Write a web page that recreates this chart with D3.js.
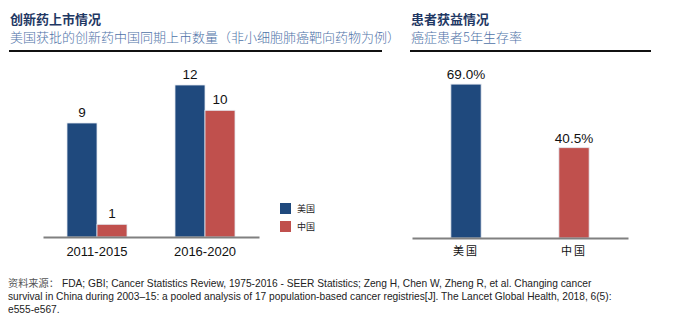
<!DOCTYPE html>
<html>
<head>
<meta charset="utf-8">
<script src="https://cdn.jsdelivr.net/npm/d3@7"></script>
<style>
  body { margin: 0; background: #fff; }
  svg { display: block; }
</style>
</head>
<body>
<div id="viz"></div>
<script>
const width = 677;
const height = 323;

// left panel: new drugs approved
const periods = ["2011-2015", "2016-2020"];
const countries = ["美国", "中国"];
const usDrugs = [9, 12];
const cnDrugs = [1, 10];

// right panel: 5-year survival
const survivalCountries = ["美国", "中国"];
const survival = [69.0, 40.5];

const colors = { "美国": "#1f497d", "中国": "#c0504d" };
const cjk = "'Noto Sans CJK SC', sans-serif";
const latin = "'Liberation Sans', Arial, sans-serif";

const svg = d3.select("#viz")
  .append("svg")
  .attr("width", width)
  .attr("height", height);

// headers
function header(x, x2, title, subtitle) {
  svg.append("text")
    .attr("x", x).attr("y", 24)
    .attr("font-family", cjk)
    .attr("font-size", "13px")
    .attr("font-weight", "bold")
    .attr("fill", "#1f3864")
    .text(title);
  svg.append("text")
    .attr("x", x).attr("y", 42)
    .attr("font-family", cjk)
    .attr("font-size", "13px")
    .attr("font-weight", 300)
    .attr("fill", "#4f73a8")
    .text(subtitle);
  svg.append("line")
    .attr("x1", x - 1).attr("x2", x2)
    .attr("y1", 51).attr("y2", 51)
    .attr("stroke", "#111")
    .attr("stroke-width", 2);
}
header(10, 382, "创新药上市情况", "美国获批的创新药中国同期上市数量（非小细胞肺癌靶向药物为例）");
header(411, 651, "患者获益情况", "癌症患者5年生存率");

// ---- left grouped bars
const x0 = d3.scaleBand().domain(periods).range([43, 259]);
const x1 = d3.scaleBand().domain(countries).range([24, 84]);
const yL = d3.scaleLinear().domain([0, 12]).range([237, 85]);

const rows = periods.map((p, i) => ({ period: p, values: [
  { key: "美国", v: usDrugs[i] },
  { key: "中国", v: cnDrugs[i] }
]}));

const groups = svg.append("g").selectAll("g")
  .data(rows).join("g")
  .attr("transform", d => `translate(${x0(d.period)},0)`);

groups.selectAll("rect")
  .data(d => d.values).join("rect")
  .attr("x", d => x1(d.key))
  .attr("width", x1.bandwidth())
  .attr("y", d => yL(d.v))
  .attr("height", d => yL(0) - yL(d.v))
  .attr("fill", d => colors[d.key])
  .attr("stroke", "#e4e9f0")
  .attr("stroke-width", 0.8);

groups.selectAll("text.val")
  .data(d => d.values).join("text")
  .attr("class", "val")
  .attr("x", d => x1(d.key) + x1.bandwidth() / 2)
  .attr("y", d => yL(d.v) - 6)
  .attr("text-anchor", "middle")
  .attr("font-family", latin)
  .attr("font-size", "13.5px")
  .attr("fill", "#111")
  .text(d => d.v);

const axL = svg.append("g")
  .attr("transform", "translate(0,237)")
  .call(d3.axisBottom(x0).tickSize(0).tickPadding(10));
axL.select(".domain").attr("stroke", "#808080").attr("stroke-width", 2);
axL.selectAll("text")
  .attr("font-family", latin)
  .attr("font-size", "13px")
  .attr("fill", "#111");

// legend
const legend = svg.append("g").selectAll("g")
  .data(countries).join("g")
  .attr("transform", (d, i) => `translate(280,${203 + i * 18})`);
legend.append("rect")
  .attr("width", 11).attr("height", 11)
  .attr("fill", d => colors[d]);
legend.append("text")
  .attr("x", 17).attr("y", 9)
  .attr("font-family", cjk)
  .attr("font-size", "9px")
  .attr("fill", "#222")
  .text(d => d);

// ---- right bars
const xR = d3.scaleBand().domain(survivalCountries).range([412, 628])
  .paddingInner(0.72).paddingOuter(0.36);
const yR = d3.scaleLinear().domain([0, 80]).range([238, 59.6]);

const surv = survivalCountries.map((c, i) => ({ key: c, v: survival[i] }));

svg.append("g").selectAll("rect")
  .data(surv).join("rect")
  .attr("x", d => xR(d.key))
  .attr("width", xR.bandwidth())
  .attr("y", d => yR(d.v))
  .attr("height", d => yR(0) - yR(d.v))
  .attr("fill", d => colors[d.key])
  .attr("stroke", "#e4e9f0")
  .attr("stroke-width", 0.8);

svg.append("g").selectAll("text")
  .data(surv).join("text")
  .attr("x", d => xR(d.key) + xR.bandwidth() / 2)
  .attr("y", d => yR(d.v) - 5)
  .attr("text-anchor", "middle")
  .attr("font-family", latin)
  .attr("font-size", "13.5px")
  .attr("fill", "#111")
  .text(d => d.v.toFixed(1) + "%");

const axR = svg.append("g")
  .attr("transform", "translate(0,238)")
  .call(d3.axisBottom(xR).tickSize(0).tickPadding(9));
axR.select(".domain").attr("stroke", "#808080").attr("stroke-width", 2);
axR.selectAll("text")
  .attr("font-family", cjk)
  .attr("font-size", "11px")
  .attr("letter-spacing", "2px")
  .attr("fill", "#111");

// footer source
const footer = svg.append("text")
  .attr("font-family", latin)
  .attr("font-size", "10.2px")
  .attr("fill", "#222");
const line1 = footer.append("tspan").attr("x", 8).attr("y", 287);
line1.append("tspan")
  .attr("font-family", cjk)
  .attr("fill", "#555")
  .text("资料来源：");
line1.append("tspan")
  .attr("dx", 3)
  .text("FDA; GBI; Cancer Statistics Review, 1975-2016 - SEER Statistics; Zeng H, Chen W, Zheng R, et al. Changing cancer");
footer.append("tspan").attr("x", 8).attr("y", 300)
  .text("survival in China during 2003–15: a pooled analysis of 17 population-based cancer registries[J]. The Lancet Global Health, 2018, 6(5):");
footer.append("tspan").attr("x", 8).attr("y", 313)
  .text("e555-e567.");
</script>
</body>
</html>
